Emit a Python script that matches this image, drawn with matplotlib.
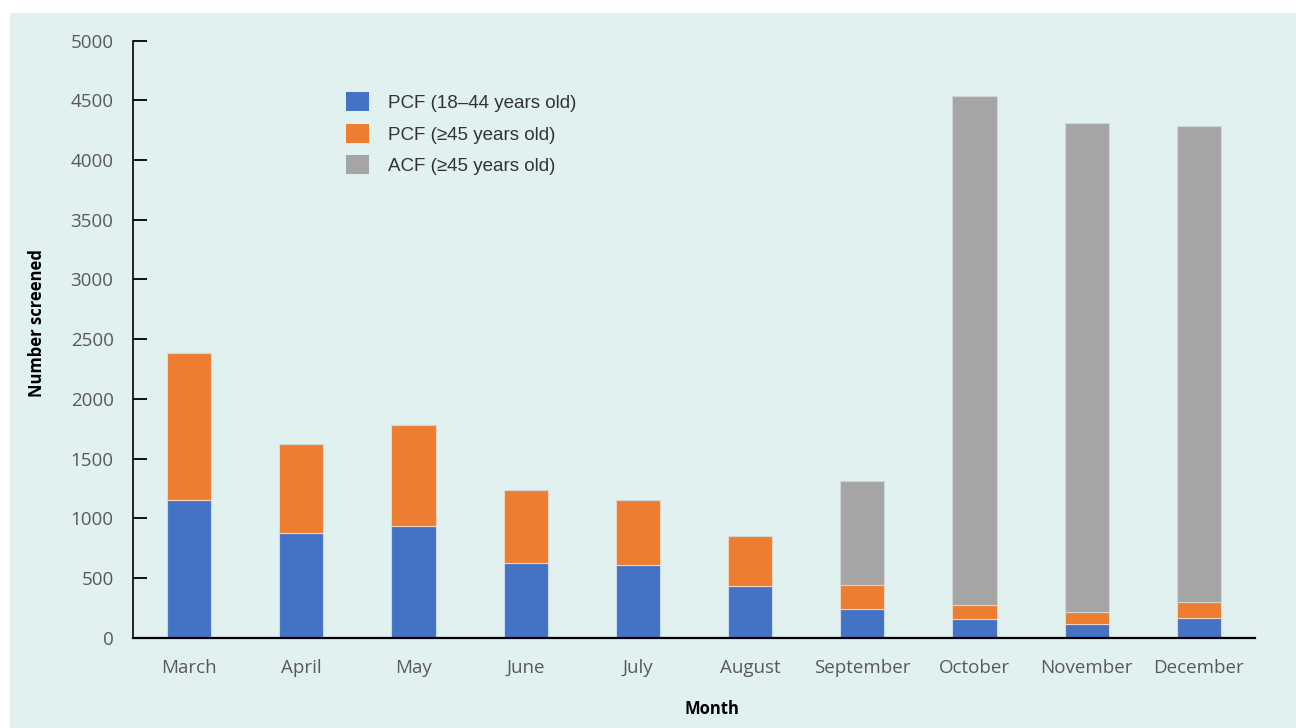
import matplotlib
matplotlib.use("Agg")
import matplotlib.pyplot as plt
from matplotlib.patches import Rectangle
import numpy as np

months = ["March", "April", "May", "June", "July", "August",
          "September", "October", "November", "December"]
pcf_young = [1156, 877, 938, 623, 609, 433, 240, 157, 117, 168]
pcf_old = [1225, 745, 841, 614, 544, 421, 204, 119, 101, 134]
acf_old = [0, 0, 0, 0, 0, 0, 866, 4261, 4090, 3981]
series_labels = ["PCF (18\u201344 years old)", "PCF (\u226545 years old)", "ACF (\u226545 years old)"]
yticks = [0, 500, 1000, 1500, 2000, 2500, 3000, 3500, 4000, 4500, 5000]

colors = ["#4472c4", "#ed7d31", "#a5a5a5"]
bg = "#e1f1f0"
W, H = 1296, 728

fig = plt.figure(figsize=(W / 100, H / 100), dpi=100, facecolor="white")
fig.patches.append(Rectangle((10 / W, 0), 1 - 10 / W, (H - 13) / H,
                             transform=fig.transFigure, facecolor=bg,
                             edgecolor="none", zorder=-10))

ax = fig.add_axes([133 / W, 1 - 637.7 / H, (1255 - 133) / W, (637.7 - 40.5) / H])
ax.set_facecolor("none")

x = np.arange(len(months))
w = 0.395
young = np.array(pcf_young)
old = np.array(pcf_old)
acf = np.array(acf_old)
b1 = ax.bar(x, young, w, color=colors[0], edgecolor="#c9d9ee", linewidth=0.8, label=series_labels[0])
b2 = ax.bar(x, old, w, bottom=young, color=colors[1], edgecolor="#f3d3bd", linewidth=0.8, label=series_labels[1])
b3 = ax.bar(x, acf, w, bottom=young + old, color=colors[2], edgecolor="#cfd6d6", linewidth=0.8, label=series_labels[2])

ax.set_xlim(-0.5, len(months) - 0.5)
ax.set_ylim(0, 5000)
ax.set_yticks(yticks)
ax.set_xticks(x)
ax.set_xticklabels(months)

for s in ["top", "right"]:
    ax.spines[s].set_visible(False)
ax.spines["left"].set_color("black")
ax.spines["left"].set_linewidth(1.2)
ax.spines["bottom"].set_color("black")
ax.spines["bottom"].set_linewidth(1.6)

tick_font = ["Open Sans", "DejaVu Sans"]
ax.tick_params(axis="y", direction="in", length=10, width=1.3, color="black",
               labelsize=13.5, labelcolor="#595959", pad=14)
ax.tick_params(axis="x", length=0, labelsize=13.5, labelcolor="#595959", pad=15)
for lab in ax.get_yticklabels() + ax.get_xticklabels():
    lab.set_fontfamily(tick_font)

fig.text(37 / W, 1 - 323 / H, "Number screened", rotation=90, ha="center", va="center",
         fontsize=12, fontweight="bold", family=tick_font, color="black")
fig.text(712 / W, 1 - 709 / H, "Month", ha="center", va="center",
         fontsize=12, fontweight="bold", family=tick_font, color="black")

leg = ax.legend(handles=[b1, b2, b3], labels=series_labels, loc="upper left",
                bbox_to_anchor=((346 - 133) / (1255 - 133), (637.7 - 92) / (637.7 - 40.5)),
                frameon=False, handlelength=1.2, handleheight=1.2, handletextpad=1.05,
                labelspacing=0.62, borderpad=0, borderaxespad=0,
                prop={"family": ["Liberation Sans", "DejaVu Sans"], "size": 13.5})
for t in leg.get_texts():
    t.set_color("#333333")
for h in leg.legend_handles:
    h.set_edgecolor("none")

fig.savefig("out.png", dpi=100, facecolor="white")
